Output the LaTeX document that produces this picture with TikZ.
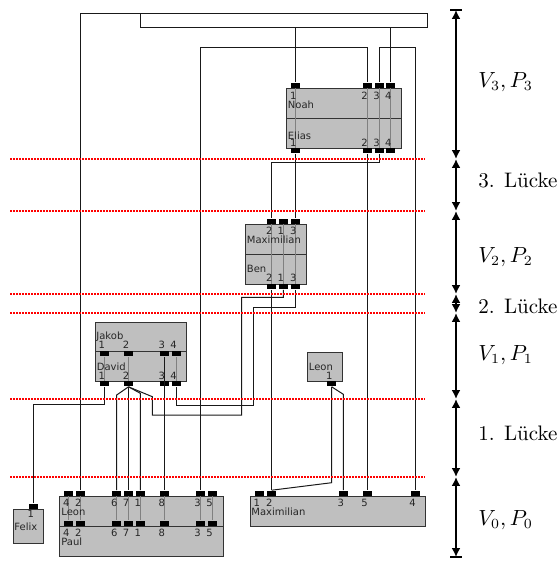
\documentclass[tikz,border=0pt]{standalone}
\usepackage{fontspec}
\newfontfamily\boxfont{DejaVu Sans}
\usetikzlibrary{arrows.meta}
\begin{document}
\begin{tikzpicture}[x=0.5pt,y=-0.5pt,
  box/.style={draw=black!80, fill=black!25, line width=0.6pt, rectangle, inner sep=0, anchor=north west},
  port/.style={fill=black, rectangle, inner sep=0, minimum width=4.5pt, minimum height=2.5pt},
  pup/.style={port, anchor=south},
  pdn/.style={port, anchor=north},
  wire/.style={draw=black!90, line width=0.5pt},
  innerline/.style={draw=black!50, line width=0.5pt},
  lbl/.style={font=\boxfont\fontsize{5}{5.5}\selectfont, inner sep=0, anchor=base west, text=black!85},
  gapline/.style={draw=red, line width=1.2pt, dash pattern=on 1pt off 0.5pt},
  sbar/.style={line width=1.4pt, {Latex[length=4.4pt,width=4.4pt]}-{Latex[length=4.4pt,width=4.4pt]}},
  lev/.style={font=\fontsize{10.5}{12}\selectfont, anchor=west, inner sep=0}
]
\useasboundingbox (0,0) rectangle (557,562);

% boxes
\node[box, minimum width=57.5pt, minimum height=15pt] (noah) at (286,88) {};
\node[box, minimum width=57.5pt, minimum height=15pt] (elias) at (286,118) {};
\node[box, minimum width=30.5pt, minimum height=15pt] (maxt) at (245,224) {};
\node[box, minimum width=30.5pt, minimum height=15pt] (ben) at (245,254) {};
\node[box, minimum width=45.5pt, minimum height=14.5pt] (jakob) at (95,322) {};
\node[box, minimum width=45.5pt, minimum height=15pt] (david) at (95,351) {};
\node[box, minimum width=17.5pt, minimum height=14.5pt] (leons) at (307,352) {};
\node[box, minimum width=82pt, minimum height=15pt] (leon) at (59,496) {};
\node[box, minimum width=82pt, minimum height=15pt] (paul) at (59,526) {};
\node[box, minimum width=15pt, minimum height=17pt] (felix) at (13,509) {};
\node[box, minimum width=87.5pt, minimum height=15pt] (maxb) at (250,496) {};

% ports
\foreach \i/\x in {1/295.7,2/367,3/379,4/390.7}{
  \node[pup] (noah\i) at (\x,88) {};
  \node[pdn] (elias\i) at (\x,148) {};
}
\foreach \i/\x in {2/271.7,1/283.3,3/295.7}{
  \node[pup] (maxt\i) at (\x,224) {};
  \node[pdn] (ben\i) at (\x,284) {};
}
\foreach \i/\x in {1/104.3,2/128.5,3/164.2,4/176}{
  \node[pdn] (jakob\i) at (\x,351) {};
  \node[pdn] (david\i) at (\x,381) {};
}
\node[pdn] (leons1) at (331.7,381) {};
\foreach \i/\x in {4/68.7,2/80.7,6/116.7,7/128.5,1/140.3,8/164.2,3/200,5/212}{
  \node[pup] (leon\i) at (\x,496) {};
  \node[pup] (paul\i) at (\x,526) {};
}
\node[pup] (felix1) at (33.3,509) {};
\foreach \i/\x in {1/259.3,2/271.7,3/343.3,5/367,4/415}{
  \node[pup] (maxb\i) at (\x,496) {};
}

% internal lines
\foreach \i in {1,2,3,4} \draw[innerline] (noah\i.south) -- (elias\i.north);
\foreach \i in {1,2,3} \draw[innerline] (maxt\i.south) -- (ben\i.north);
\foreach \i in {1,2,3,4} \draw[innerline] (jakob\i.south) -- (david\i.north);
\foreach \i in {1,...,8} \draw[innerline] (leon\i.south) -- (paul\i.north);

% wires
\draw[wire] (leon2.north) |- (427,13) |- (140,27) -- (140,13);
\draw[wire] (noah1.north) -- (noah1.north |- 0,27);
\draw[wire] (noah4.north) -- (noah4.north |- 0,27);
\draw[wire] (leon3.north) |- (noah2.north |- 0,47) -- (noah2.north);
\draw[wire] (noah3.north) |- (maxb4.north |- 0,47) -- (maxb4.north);
\draw[wire] (elias1.south) -- (maxt3.north);
\draw[wire] (elias2.south) -- (maxb5.north);
\draw[wire] (elias3.south) |- (maxt2.north |- 0,162) -- (maxt2.north);
\draw[wire] (ben2.south) -- (maxb2.north);
\draw[wire] (ben1.south) |- (241.7,297.3) |- (152.3,415) -- (152.3,396.7) -- (david2.south);
\draw[wire] (ben3.south) |- (253.3,307.7) |- (david4.south |- 0,405) -- (david4.south);
\draw[wire] (david1.south) |- (felix1.north |- 0,404) -- (felix1.north);
\draw[wire] (david2.south) -- (116.7,395) -- (leon6.north);
\draw[wire] (david2.south) -- (leon7.north);
\draw[wire] (david2.south) -- (140.3,393.3) -- (leon1.north);
\draw[wire] (jakob3.south) -- (leon8.north);
\draw[wire] (leons1.south) -- (331.7,482.7) -- (maxb2.north);
\draw[wire] (leons1.south) -- (343.3,394.3) -- (maxb3.north);

% labels
\foreach \i/\x in {1/295.7,2/367,3/379,4/390.7}{
  \node[lbl] at (\x-6,99) {\i};
  \node[lbl] at (\x-6,146.5) {\i};
}
\node[lbl] (tnoah) at (287.5,108) {Noah};
\node[lbl] (telias) at (287.5,139) {Elias};
\foreach \i/\x in {2/271.7,1/283.3,3/295.7}{
  \node[lbl] at (\x-6,234) {\i};
  \node[lbl] at (\x-6,281) {\i};
}
\node[lbl] (tmaxt) at (246.5,243) {Maximilian};
\node[lbl] (tben) at (246.5,272.5) {Ben};
\foreach \i/\x in {1/104.3,2/128.5,3/164.2,4/176}{
  \node[lbl] at (\x-6,348) {\i};
  \node[lbl] at (\x-6,379) {\i};
}
\node[lbl] (tjakob) at (96,339) {Jakob};
\node[lbl] (tdavid) at (96.5,370) {David};
\node[lbl] (tleons) at (308.5,370) {Leon};
\node[lbl] at (325.7,379) {1};
\foreach \i/\x in {4/68.7,2/80.7,6/116.7,7/128.5,1/140.3,8/164.2,3/200,5/212}{
  \node[lbl] at (\x-6,506) {\i};
  \node[lbl] at (\x-6,536) {\i};
}
\node[lbl] (tleon) at (61,515) {Leon};
\node[lbl] (tpaul) at (61,545) {Paul};
\node[lbl] at (27.3,517) {1};
\node[lbl] (tfelix) at (14,530) {Felix};
\foreach \i/\x in {1/259.3,2/271.7,3/343.3,5/367,4/415}{
  \node[lbl] at (\x-6,506) {\i};
}
\node[lbl] (tmaxb) at (251,515) {Maximilian};

% red gap lines
\foreach \y in {159,211,294,313,399,477} \draw[gapline] (10,\y) -- (425,\y);

% scale bar
\coordinate (s0) at (456,10);
\coordinate (s1) at (456,159);
\coordinate (s2) at (456,211);
\coordinate (s3) at (456,294);
\coordinate (s4) at (456,313);
\coordinate (s5) at (456,399);
\coordinate (s6) at (456,477);
\coordinate (s7) at (456,557);
\draw[sbar] (s0) -- (s1);
\draw[sbar] (s1) -- (s2);
\draw[sbar] (s2) -- (s3);
\draw[sbar] (s3) -- (s4);
\draw[sbar] (s4) -- (s5);
\draw[sbar] (s5) -- (s6);
\draw[sbar] (s6) -- (s7);
\draw[line width=1.4pt] ([xshift=-3pt]s0) -- ([xshift=3pt]s0);
\draw[line width=1.4pt] ([xshift=-3pt]s7) -- ([xshift=3pt]s7);

\node[lev] (l1) at (478,81.7) {$V_3, P_3$};
\node[lev] (l2) at (478,180) {3. Lücke};
\node[lev] (l3) at (478,256.7) {$V_2, P_2$};
\node[lev] (l4) at (478,306.7) {2. Lücke};
\node[lev] (l5) at (478,355) {$V_1, P_1$};
\node[lev] (l6) at (478,433) {1. Lücke};
\node[lev] (l7) at (478,520) {$V_0, P_0$};
\end{tikzpicture}
\end{document}
